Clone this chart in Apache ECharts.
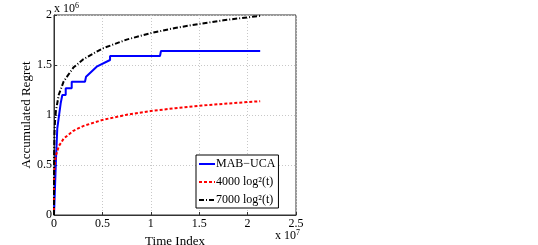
<!DOCTYPE html>
<html><head><meta charset="utf-8">
<script src="https://cdn.jsdelivr.net/npm/echarts@6/dist/echarts.min.js"></script>
<style>html,body{margin:0;padding:0;background:#fff}#c{width:538px;height:245px}</style>
</head><body><div id="c"></div>
<script>
// time index values
const tBlue = [0, 1e5, 2e5, 3.4e5, 5.5e5, 6.9e5, 8.6e5, 8.6e5, 1.21e6, 1.21e6, 1.83e6, 1.83e6, 3.2e6, 3.31e6, 4.41e6, 5.79e6, 5.79e6, 1.095e7, 1.105e7, 2.13e7];
const blueVals = [0, 0.27e6, 0.55e6, 0.867e6, 1.017e6, 1.117e6, 1.117e6, 1.2e6, 1.2e6, 1.267e6, 1.267e6, 1.333e6, 1.333e6, 1.383e6, 1.483e6, 1.55e6, 1.59e6, 1.59e6, 1.64e6, 1.64e6];
const tCurve = [0, 1e3, 1e4, 5e4, 1e5, 2e5, 5e5, 1e6, 2e6, 3e6, 5e6, 7.5e6, 1e7, 1.25e7, 1.5e7, 1.75e7, 2.13e7];
const redVals = [0, 0.191e6, 0.339e6, 0.468e6, 0.530e6, 0.596e6, 0.689e6, 0.764e6, 0.842e6, 0.889e6, 0.951e6, 1.002e6, 1.040e6, 1.068e6, 1.092e6, 1.112e6, 1.138e6];
const blackVals = [0, 0.334e6, 0.594e6, 0.820e6, 0.927e6, 1.043e6, 1.205e6, 1.336e6, 1.474e6, 1.556e6, 1.665e6, 1.754e6, 1.819e6, 1.870e6, 1.911e6, 1.947e6, 1.992e6];
const seriesNames = ['MAB\u2212UCA', '4000 log\u00b2(t)', '7000 log\u00b2(t)'];
const xTicks = ['0', '0.5', '1', '1.5', '2', '2.5'];
const yTicks = ['0', '0.5', '1', '1.5', '2'];

const zip = (a, b) => a.map((v, i) => [v, b[i]]);
const font = 'Liberation Serif';
const chart = echarts.init(document.getElementById('c'));
chart.setOption({
  animation: false,
  backgroundColor: '#fff',
  grid: { left: 54, right: 242, top: 15, bottom: 30, outerBoundsMode: 'none', containLabel: false, show: true, borderColor: '#333', borderWidth: 1, backgroundColor: 'transparent' },
  xAxis: {
    type: 'value', min: 0, max: 2.5e7, interval: 0.5e7,
    name: 'Time Index', nameLocation: 'middle', nameGap: 16,
    nameTextStyle: { fontFamily: font, fontSize: 13, color: '#000' },
    axisLine: { lineStyle: { color: '#333' } },
    axisTick: { inside: true, length: 3, lineStyle: { color: '#333' } },
    axisLabel: { fontFamily: font, fontSize: 12, color: '#000', margin: 3, formatter: (v) => xTicks[Math.round(v / 0.5e7)] },
    splitLine: { show: true, lineStyle: { color: '#c8c8c8', type: [1, 2] } }
  },
  yAxis: {
    type: 'value', min: 0, max: 2e6, interval: 0.5e6,
    name: 'Accumulated Regret', nameLocation: 'middle', nameGap: 19,
    nameTextStyle: { fontFamily: font, fontSize: 13, color: '#000' },
    axisLine: { show: true, lineStyle: { color: '#333' } },
    axisTick: { show: true, inside: true, length: 3, lineStyle: { color: '#333' } },
    axisLabel: { fontFamily: font, fontSize: 12, color: '#000', margin: 2, formatter: (v) => yTicks[Math.round(v / 0.5e6)] },
    splitLine: { show: true, lineStyle: { color: '#c8c8c8', type: [1, 2] } }
  },
  legend: {
    orient: 'vertical', left: 196, top: 155, itemWidth: 16, itemHeight: 10, itemGap: 6,
    backgroundColor: '#fff', borderColor: '#000', borderWidth: 1, padding: [3, 3, 2, 2],
    itemStyle: { opacity: 0 },
    textStyle: { fontFamily: font, fontSize: 12, color: '#000', padding: [0, 0, 0, -4] },
    data: seriesNames
  },
  graphic: [
    { type: 'text', left: 54, top: 2, style: { text: '{a|x 10}{b|6}', rich: { a: { fontFamily: font, fontSize: 12, fill: '#000' }, b: { fontFamily: font, fontSize: 8, fill: '#000', verticalAlign: 'top', padding: [0, 0, 6, 0] } } } },
    { type: 'text', left: 275, top: 229, style: { text: '{a|x 10}{b|7}', rich: { a: { fontFamily: font, fontSize: 12, fill: '#000' }, b: { fontFamily: font, fontSize: 8, fill: '#000', padding: [0, 0, 6, 0] } } } }
  ],
  series: [
    { name: seriesNames[0], type: 'line', data: zip(tBlue, blueVals), showSymbol: false, symbol: 'none', lineStyle: { color: '#0000ff', width: 2 }, itemStyle: { color: '#0000ff' } },
    { name: seriesNames[1], type: 'line', data: zip(tCurve, redVals), showSymbol: false, symbol: 'none', smooth: false, lineStyle: { color: '#ff0000', width: 2, type: [3, 2] }, itemStyle: { color: '#ff0000' } },
    { name: seriesNames[2], type: 'line', data: zip(tCurve, blackVals), showSymbol: false, symbol: 'none', lineStyle: { color: '#000', width: 2, type: [5, 2, 1, 2] }, itemStyle: { color: '#000' } }
  ]
});
</script></body></html>
